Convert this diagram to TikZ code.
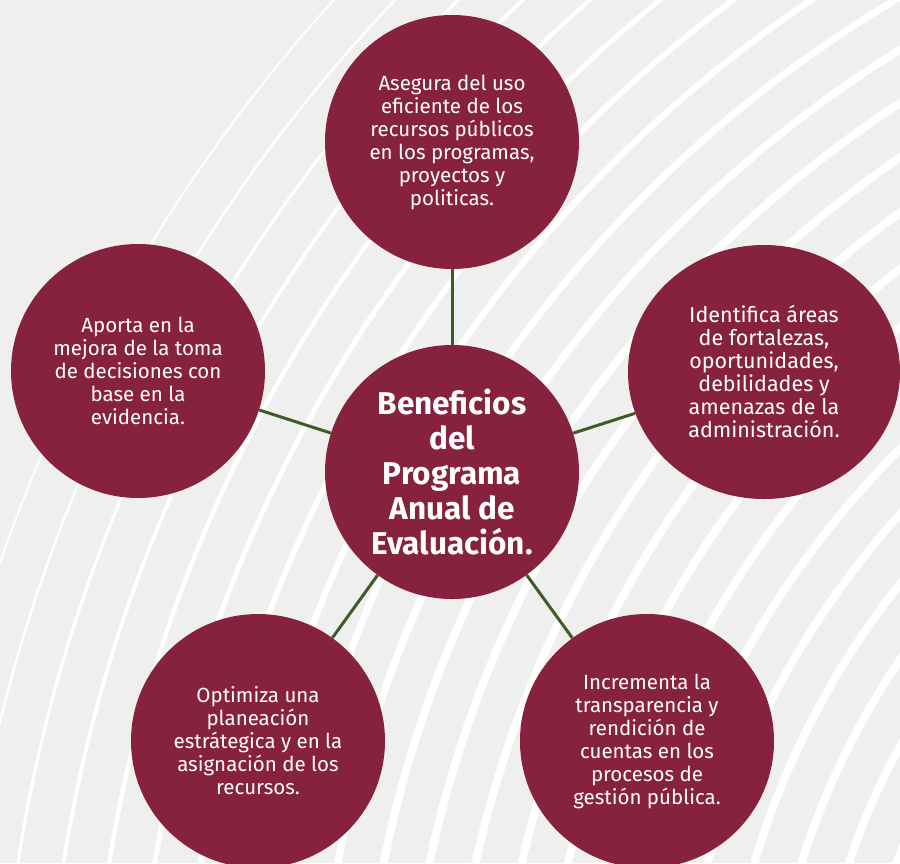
\documentclass[tikz,border=0pt]{standalone}
\usepackage{fontspec}
\setmainfont{Fira Sans}
\usetikzlibrary{shapes.geometric}
\definecolor{vino}{RGB}{134,34,62}
\definecolor{verde}{RGB}{62,92,38}
\definecolor{fondo}{RGB}{239,239,239}
\begin{document}
\begin{tikzpicture}[x=1pt,y=-1pt,
  bubble/.style={circle,fill=vino,text=white,inner sep=0pt,minimum size=254pt,align=center,font=\fontsize{20.5}{23}\selectfont},
  link/.style={draw=verde,line width=3pt}]
\useasboundingbox (0,0) rectangle (900,863);
\fill[fondo] (0,0) rectangle (900,863);
% white wave lines in the back
\begin{scope}
\clip (0,0) rectangle (900,863);
\foreach \r in {650,695,...,1640}
  \draw[white,line width={max(1,min(8,8-(\r-1200)*0.014))}] (1550,1100) circle[radius=\r];
\end{scope}
\node[bubble,font=\fontsize{31.5}{35}\selectfont\bfseries] (c) at (452,472) {Beneficios\\del\\Programa\\Anual de\\Evaluación.};
\node[bubble] (t) at (452,142) {Asegura del uso\\eficiente de los\\recursos públicos\\en los programas,\\proyectos y\\politicas.};
\node[bubble] (l) at (138,371) {Aporta en la\\mejora de la toma\\de decisiones con\\base en la\\evidencia.};
\node[bubble,ellipse,minimum width=272pt,minimum height=254pt,font=\fontsize{21.5}{23}\selectfont] (r) at (764,372) {Identifica áreas\\de fortalezas,\\oportunidades,\\debilidades y\\amenazas de la\\administración.};
\node[bubble] (bl) at (258,741) {Optimiza una\\planeación\\estrátegica y en la\\asignación de los\\recursos.};
\node[bubble] (br) at (647,741) {Incrementa la\\transparencia y\\rendición de\\cuentas en los\\procesos de\\gestión pública.};
\draw[link] (c) -- (t);
\draw[link] (c) -- (l);
\draw[link] (c) -- (r);
\draw[link] (c) -- (bl);
\draw[link] (c) -- (br);
\end{tikzpicture}
\end{document}
